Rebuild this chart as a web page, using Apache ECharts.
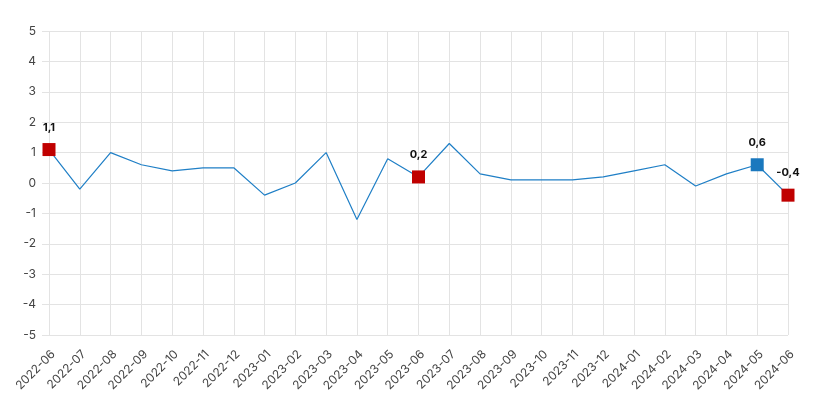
<!DOCTYPE html>
<html>
<head>
<meta charset="utf-8">
<script src="https://cdn.jsdelivr.net/npm/echarts@6/dist/echarts.min.js"></script>
<style>
  html, body { margin: 0; padding: 0; background: #fff; }
  #chart { width: 825px; height: 408px; }
</style>
</head>
<body>
<div id="chart"></div>
<script>
// months shown on the x axis
var months = ['2022-06','2022-07','2022-08','2022-09','2022-10','2022-11','2022-12',
  '2023-01','2023-02','2023-03','2023-04','2023-05','2023-06','2023-07','2023-08',
  '2023-09','2023-10','2023-11','2023-12','2024-01','2024-02','2024-03','2024-04',
  '2024-05','2024-06'];
var values = [1.1, -0.2, 1.0, 0.6, 0.4, 0.5, 0.5, -0.4, 0.0, 1.0, -1.2, 0.8, 0.2,
  1.3, 0.3, 0.1, 0.1, 0.1, 0.2, 0.4, 0.6, -0.1, 0.3, 0.6, -0.4];
// highlighted points
var redMonths = ['2022-06', '2023-06', '2024-06'];
var blueMonths = ['2024-05'];
var yTicks = [-5, -4, -3, -2, -1, 0, 1, 2, 3, 4, 5];

var lineColor = '#1f7fc6';
var red = '#c00000';
var blue = '#1a78be';
var font = 'Inter, "Liberation Sans", sans-serif';

function fmt(v) { return String(v).replace('.', ','); }

function marks(list, color) {
  return list.map(function (m) {
    var i = months.indexOf(m);
    return { value: [m, values[i]], itemStyle: { color: color } };
  });
}

var myChart = echarts.init(document.getElementById('chart'));
myChart.setOption({
  animation: false,
  grid: { left: 49, right: 37, top: 31, bottom: 73 },
  xAxis: {
    type: 'category',
    data: months,
    boundaryGap: false,
    axisLine: { show: false },
    axisTick: { show: true, length: 6, lineStyle: { color: '#e3e3e3' } },
    splitLine: { show: true, lineStyle: { color: '#e3e3e3' } },
    axisLabel: { rotate: 45, interval: 0, color: '#444', fontSize: 12, margin: 13,
      verticalAlign: 'top', fontFamily: font }
  },
  yAxis: {
    type: 'value',
    min: yTicks[0],
    max: yTicks[yTicks.length - 1],
    interval: 1,
    axisLine: { show: false },
    axisTick: { show: true, length: 7, lineStyle: { color: '#e3e3e3' } },
    splitLine: { lineStyle: { color: '#e3e3e3' } },
    axisLabel: { color: '#444', fontSize: 12, margin: 13, fontFamily: font }
  },
  series: [{
    type: 'line',
    data: values,
    symbol: 'none',
    lineStyle: { color: lineColor, width: 1.2 },
    z: 2
  }, {
    type: 'scatter',
    data: marks(redMonths, red).concat(marks(blueMonths, blue)),
    symbol: 'rect',
    symbolSize: 13,
    itemStyle: { opacity: 1 },
    z: 3,
    label: {
      show: true,
      position: 'top',
      distance: 10,
      color: '#111',
      fontWeight: 'bold',
      fontSize: 11,
      fontFamily: font,
      formatter: function (p) { return fmt(p.value[1]); }
    }
  }]
});
window.onresize = myChart.resize;
</script>
</body>
</html>
